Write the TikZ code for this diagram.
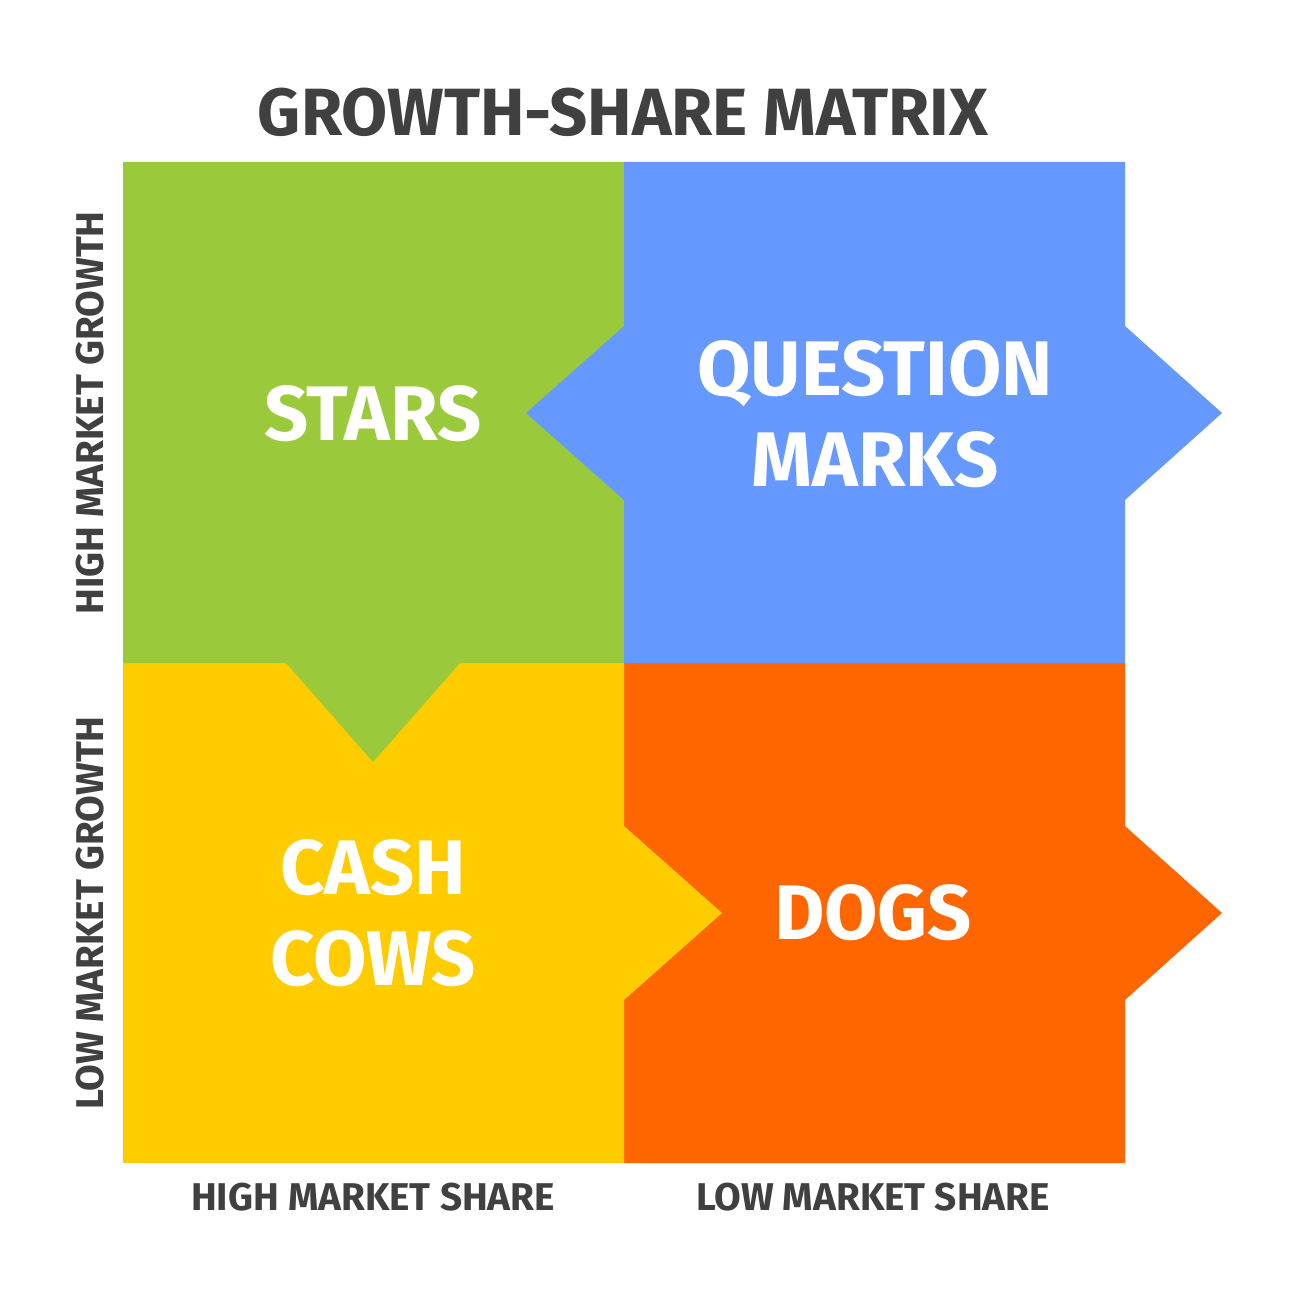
\documentclass[tikz,border=0pt]{standalone}
\usepackage{fontspec}
\setmainfont{Fira Sans}
\usetikzlibrary{positioning}

\definecolor{starsgreen}{HTML}{9ACA3C}
\definecolor{questblue}{HTML}{6699FF}
\definecolor{cowyellow}{HTML}{FFCC00}
\definecolor{dogorange}{HTML}{FF6600}
\definecolor{labelgray}{HTML}{404040}

\begin{document}
\begin{tikzpicture}[
    x=0.01cm, y=-0.01cm,
    quadlabel/.style={text=white, align=center, font=\fontsize{22pt}{26pt}\selectfont\bfseries},
    axislabel/.style={text=labelgray, font=\fontsize{11pt}{13pt}\selectfont\bfseries},
    titlelabel/.style={text=labelgray, font=\fontsize{19pt}{22pt}\selectfont\bfseries}
]
    \useasboundingbox (0,0) rectangle (1300,1300);

    % Quadrants - drawn so that each arrow lies over its neighbour
    \fill[dogorange] (624,663) -- (1125,663) -- (1125,826) -- (1222,913) -- (1125,1000)
        -- (1125,1163) -- (624,1163) -- cycle;
    \fill[cowyellow] (123,663) -- (624,663) -- (624,826) -- (722,913) -- (624,1000)
        -- (624,1163) -- (123,1163) -- cycle;
    \fill[starsgreen] (123,162) -- (624,162) -- (624,663) -- (460,663) -- (373,762)
        -- (286,663) -- (123,663) -- cycle;
    \fill[questblue] (624,162) -- (1125,162) -- (1125,326) -- (1222,413) -- (1125,500)
        -- (1125,663) -- (624,663) -- (624,500) -- (526,413) -- (624,326) -- cycle;

    % Quadrant names
    \node[quadlabel] (stars) at (373,414) {STARS};
    \node[quadlabel] (qmarks) at (875,414) {QUESTION\\MARKS};
    \node[quadlabel] (cows) at (373,913) {CASH\\COWS};
    \node[quadlabel] (dogs) at (873,913) {DOGS};

    % Title and axes
    \node[titlelabel] (title) at (623,112) {GROWTH-SHARE MATRIX};
    \node[axislabel, rotate=90] (hgrowth) at (90,413) {HIGH MARKET GROWTH};
    \node[axislabel, rotate=90] (lgrowth) at (90,913) {LOW MARKET GROWTH};
    \node[axislabel] (hshare) at (373,1197) {HIGH MARKET SHARE};
    \node[axislabel] (lshare) at (873,1197) {LOW MARKET SHARE};
\end{tikzpicture}
\end{document}
